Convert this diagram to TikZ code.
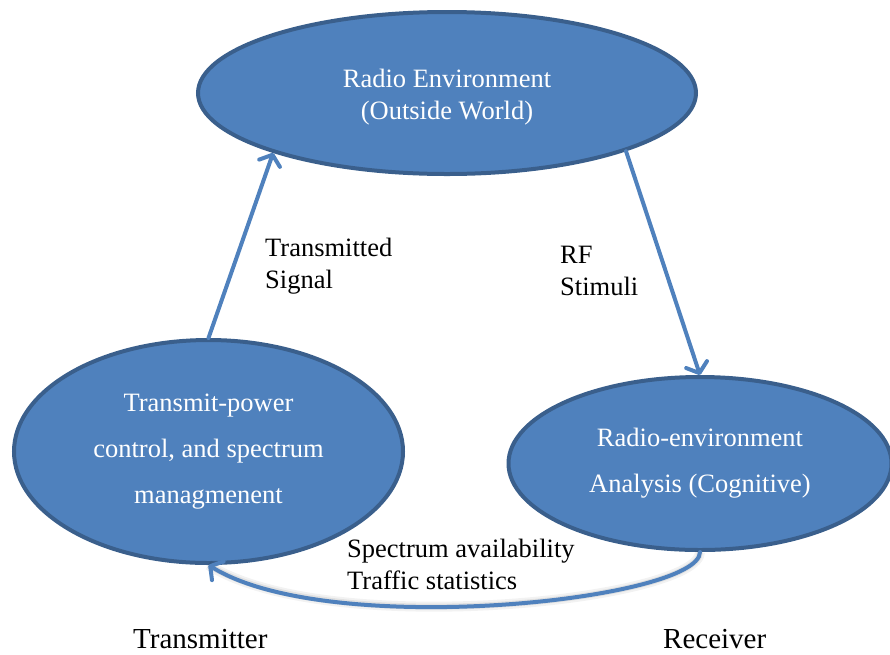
\documentclass[tikz,border=0pt]{standalone}
\usepackage{fontspec}
\setmainfont{Liberation Serif}
\usetikzlibrary{shapes.geometric,arrows.meta}
\definecolor{ovalfill}{HTML}{4F81BD}
\definecolor{ovalline}{HTML}{3A5F8C}
\begin{document}
\begin{tikzpicture}[x=1pt,y=-1pt,
  oval/.style={ellipse, draw=ovalline, fill=ovalfill, line width=4pt,
    text=white, align=center, inner sep=0pt},
  flow/.style={draw=ovalfill, line width=4pt, line cap=round,
    -{Straight Barb[length=9pt,width=22pt,line cap=round,line join=round]}},
  lbl/.style={align=left, anchor=base west, inner sep=0pt,
    font=\fontsize{26.5}{31.5}\selectfont},
  endlbl/.style={anchor=base west, inner sep=0pt,
    font=\fontsize{29}{34}\selectfont}]
\useasboundingbox (0,0) rectangle (890,654);

% the three stages of the cognitive cycle
\node[oval, minimum width=498pt, minimum height=162pt,
  font=\fontsize{26.5}{32}\selectfont] (env) at (447,93)
  {\rule{0pt}{26pt}Radio Environment\\(Outside World)};
\node[oval, minimum width=389pt, minimum height=223pt,
  font=\fontsize{26.5}{46}\selectfont] (tx) at (208.5,451.5)
  {Transmit-power\\control, and spectrum\\managmenent};
\node[oval, minimum width=383pt, minimum height=173pt,
  font=\fontsize{26.5}{46}\selectfont] (rx) at (700,463.5)
  {Radio-environment\\Analysis (Cognitive)};

% connectors, the feedback one with a soft shadow beneath
\draw[flow] (tx.north) -- (env.199);
\draw[flow] (env.342) -- (rx.north);
\begin{scope}[shift={(0,5)}]
  \draw[black, opacity=0.05, line width=10pt] (rx.south) .. controls +(0,48) and +(120,75) .. (tx.south);
  \draw[black, opacity=0.07, line width=6pt] (rx.south) .. controls +(0,48) and +(120,75) .. (tx.south);
\end{scope}
\draw[flow] (rx.south) .. controls +(0,48) and +(120,75) .. (tx.south);

% labels (anchored at the baseline of their last line)
\node[lbl] (sig) at (265,288) {Transmitted\\Signal};
\node[lbl] (rf) at (560,295) {RF\\Stimuli};
\node[lbl] (fb) at (347,589) {Spectrum availability\\Traffic statistics};
\node[endlbl] (txl) at (133,648) {Transmitter};
\node[endlbl] (rxl) at (663,648) {Receiver};
\end{tikzpicture}
\end{document}
